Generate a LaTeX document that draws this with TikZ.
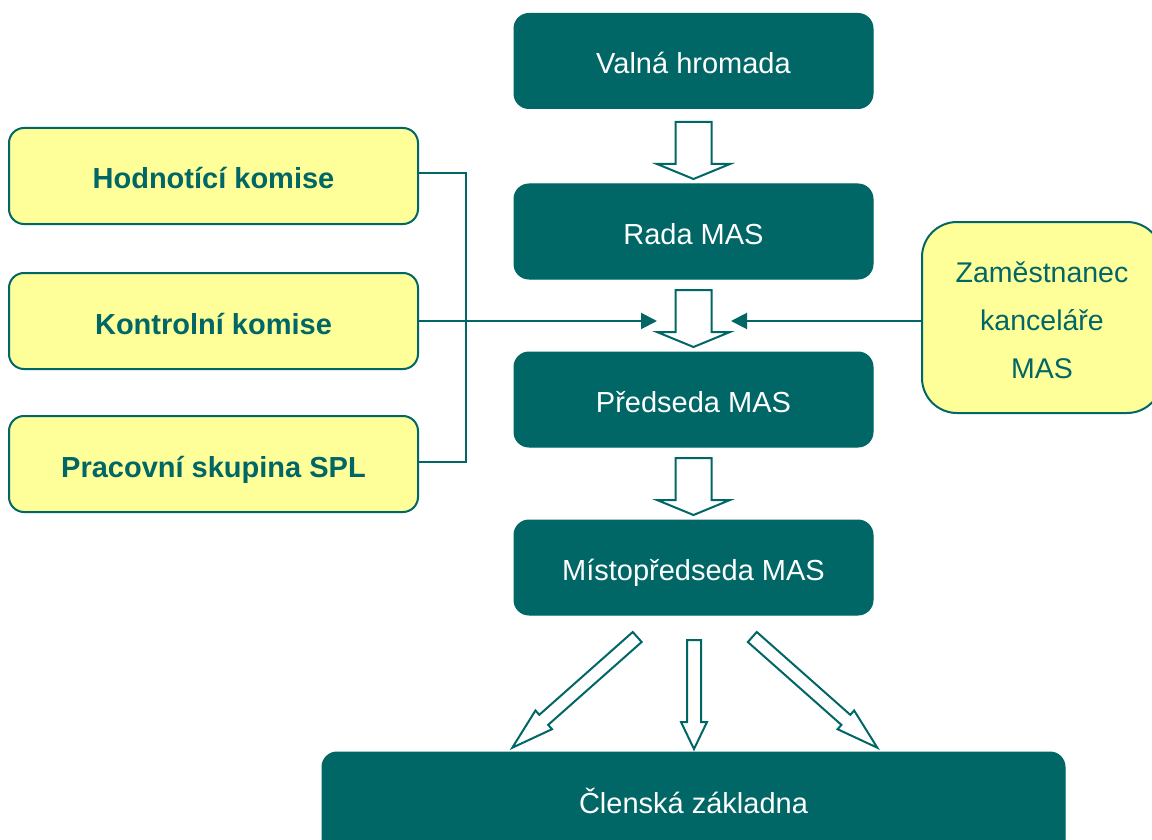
\documentclass[tikz,border=0pt]{standalone}
\usepackage{fontspec}
\setmainfont{Liberation Sans}
\usetikzlibrary{calc,arrows.meta}
\definecolor{teal1}{RGB}{0,102,102}
\definecolor{yel1}{RGB}{255,255,153}
\newcommand\hollowarrow[5]{%
  \path ($(#2)!#5!(#1)$) coordinate (habase);
  \draw[hollow] ($(#1)!#3!90:(#2)$) -- ($(habase)!#3!90:(#2)$) -- ($(habase)!#4!90:(#2)$) -- (#2)
    -- ($(habase)!#4!-90:(#2)$) -- ($(habase)!#3!-90:(#2)$) -- ($(#1)!#3!-90:(#2)$) -- cycle;}
\begin{document}
\begin{tikzpicture}[x=1pt,y=-1pt,
  darkbox/.style={rectangle, rounded corners=15pt, fill=teal1, draw=teal1, line width=1pt,
    minimum width=359pt, minimum height=95pt, inner sep=0pt, text=white,
    text height=28pt, text depth=2pt,
    font=\fontsize{29}{34}\selectfont},
  yelbox/.style={rectangle, rounded corners=15pt, fill=yel1, draw=teal1, line width=2pt,
    minimum width=409pt, minimum height=96pt, inner sep=0pt, text=teal1,
    text height=28pt, text depth=2pt,
    font=\fontsize{29}{34}\selectfont\bfseries},
  hollow/.style={draw=teal1, fill=white, line width=2pt, line join=miter},
  link/.style={draw=teal1, line width=2pt},
  sidearrow/.style={link, -{Triangle[length=16pt,width=16pt]}}
]
\useasboundingbox (0,0) rectangle (1152,840);
\fill[white] (0,0) rectangle (1152,840);
% main column
\node[darkbox] (valna) at (693.5,61) {Valná hromada};
\node[darkbox] (rada) at (693.5,231.5) {Rada MAS};
\node[darkbox] (predseda) at (693.5,399.5) {Předseda MAS};
\node[darkbox] (misto) at (693.5,567.5) {Místopředseda MAS};
\node[darkbox, minimum width=743pt, minimum height=104pt, text height=21pt, text depth=2pt]
  (clen) at (693.5,804) {Členská základna};
% left boxes
\node[yelbox] (hodn) at (213.5,176) {Hodnotící komise};
\node[yelbox] (kontr) at (213.5,321) {Kontrolní komise};
\node[yelbox] (prac) at (213.5,464) {Pracovní skupina SPL};
% right box
\node[rectangle, fill=yel1, draw=teal1, line width=2pt, rounded corners=35pt,
  minimum width=240pt, minimum height=191pt, inner sep=0pt] (zam) at (1042,317.5) {};
\node[text=teal1, font=\fontsize{28.5}{48}\selectfont, align=center, inner sep=0pt]
  (zamtext) at ([yshift=-3pt]zam.center) {Zaměstnanec\\kanceláře\\MAS};
% hollow arrows
\coordinate (a1t) at (693.5,122); \coordinate (a1h) at (693.5,179);
\coordinate (a2t) at (693.5,290); \coordinate (a2h) at (693.5,347);
\coordinate (a3t) at (693.5,458); \coordinate (a3h) at (693.5,515);
\hollowarrow{a1t}{a1h}{18pt}{36.5pt}{15pt}
\hollowarrow{a2t}{a2h}{18pt}{36.5pt}{15pt}
\hollowarrow{a3t}{a3h}{18pt}{36.5pt}{15pt}
\coordinate (b1t) at (637.2,637); \coordinate (b1h) at (512.3,747.7);
\coordinate (b2t) at (694,640); \coordinate (b2h) at (694,749);
\coordinate (b3t) at (752.3,637); \coordinate (b3h) at (877.3,747.7);
\hollowarrow{b1t}{b1h}{6.7pt}{12.5pt}{42pt}
\hollowarrow{b2t}{b2h}{7pt}{13pt}{27pt}
\hollowarrow{b3t}{b3h}{6.7pt}{12.5pt}{42pt}
% bracket and side arrows
\coordinate (bt) at (466,173);
\coordinate (bb) at (466,462);
\draw[link] (hodn.east |- bt) -- (bt) -- (bb) -- (prac.east |- bb);
\coordinate (lt) at (657,321);
\coordinate (rt) at (731,321);
\draw[sidearrow] (kontr.east) -- (lt);
\draw[sidearrow] (zam.west |- rt) -- (rt);
\end{tikzpicture}
\end{document}
